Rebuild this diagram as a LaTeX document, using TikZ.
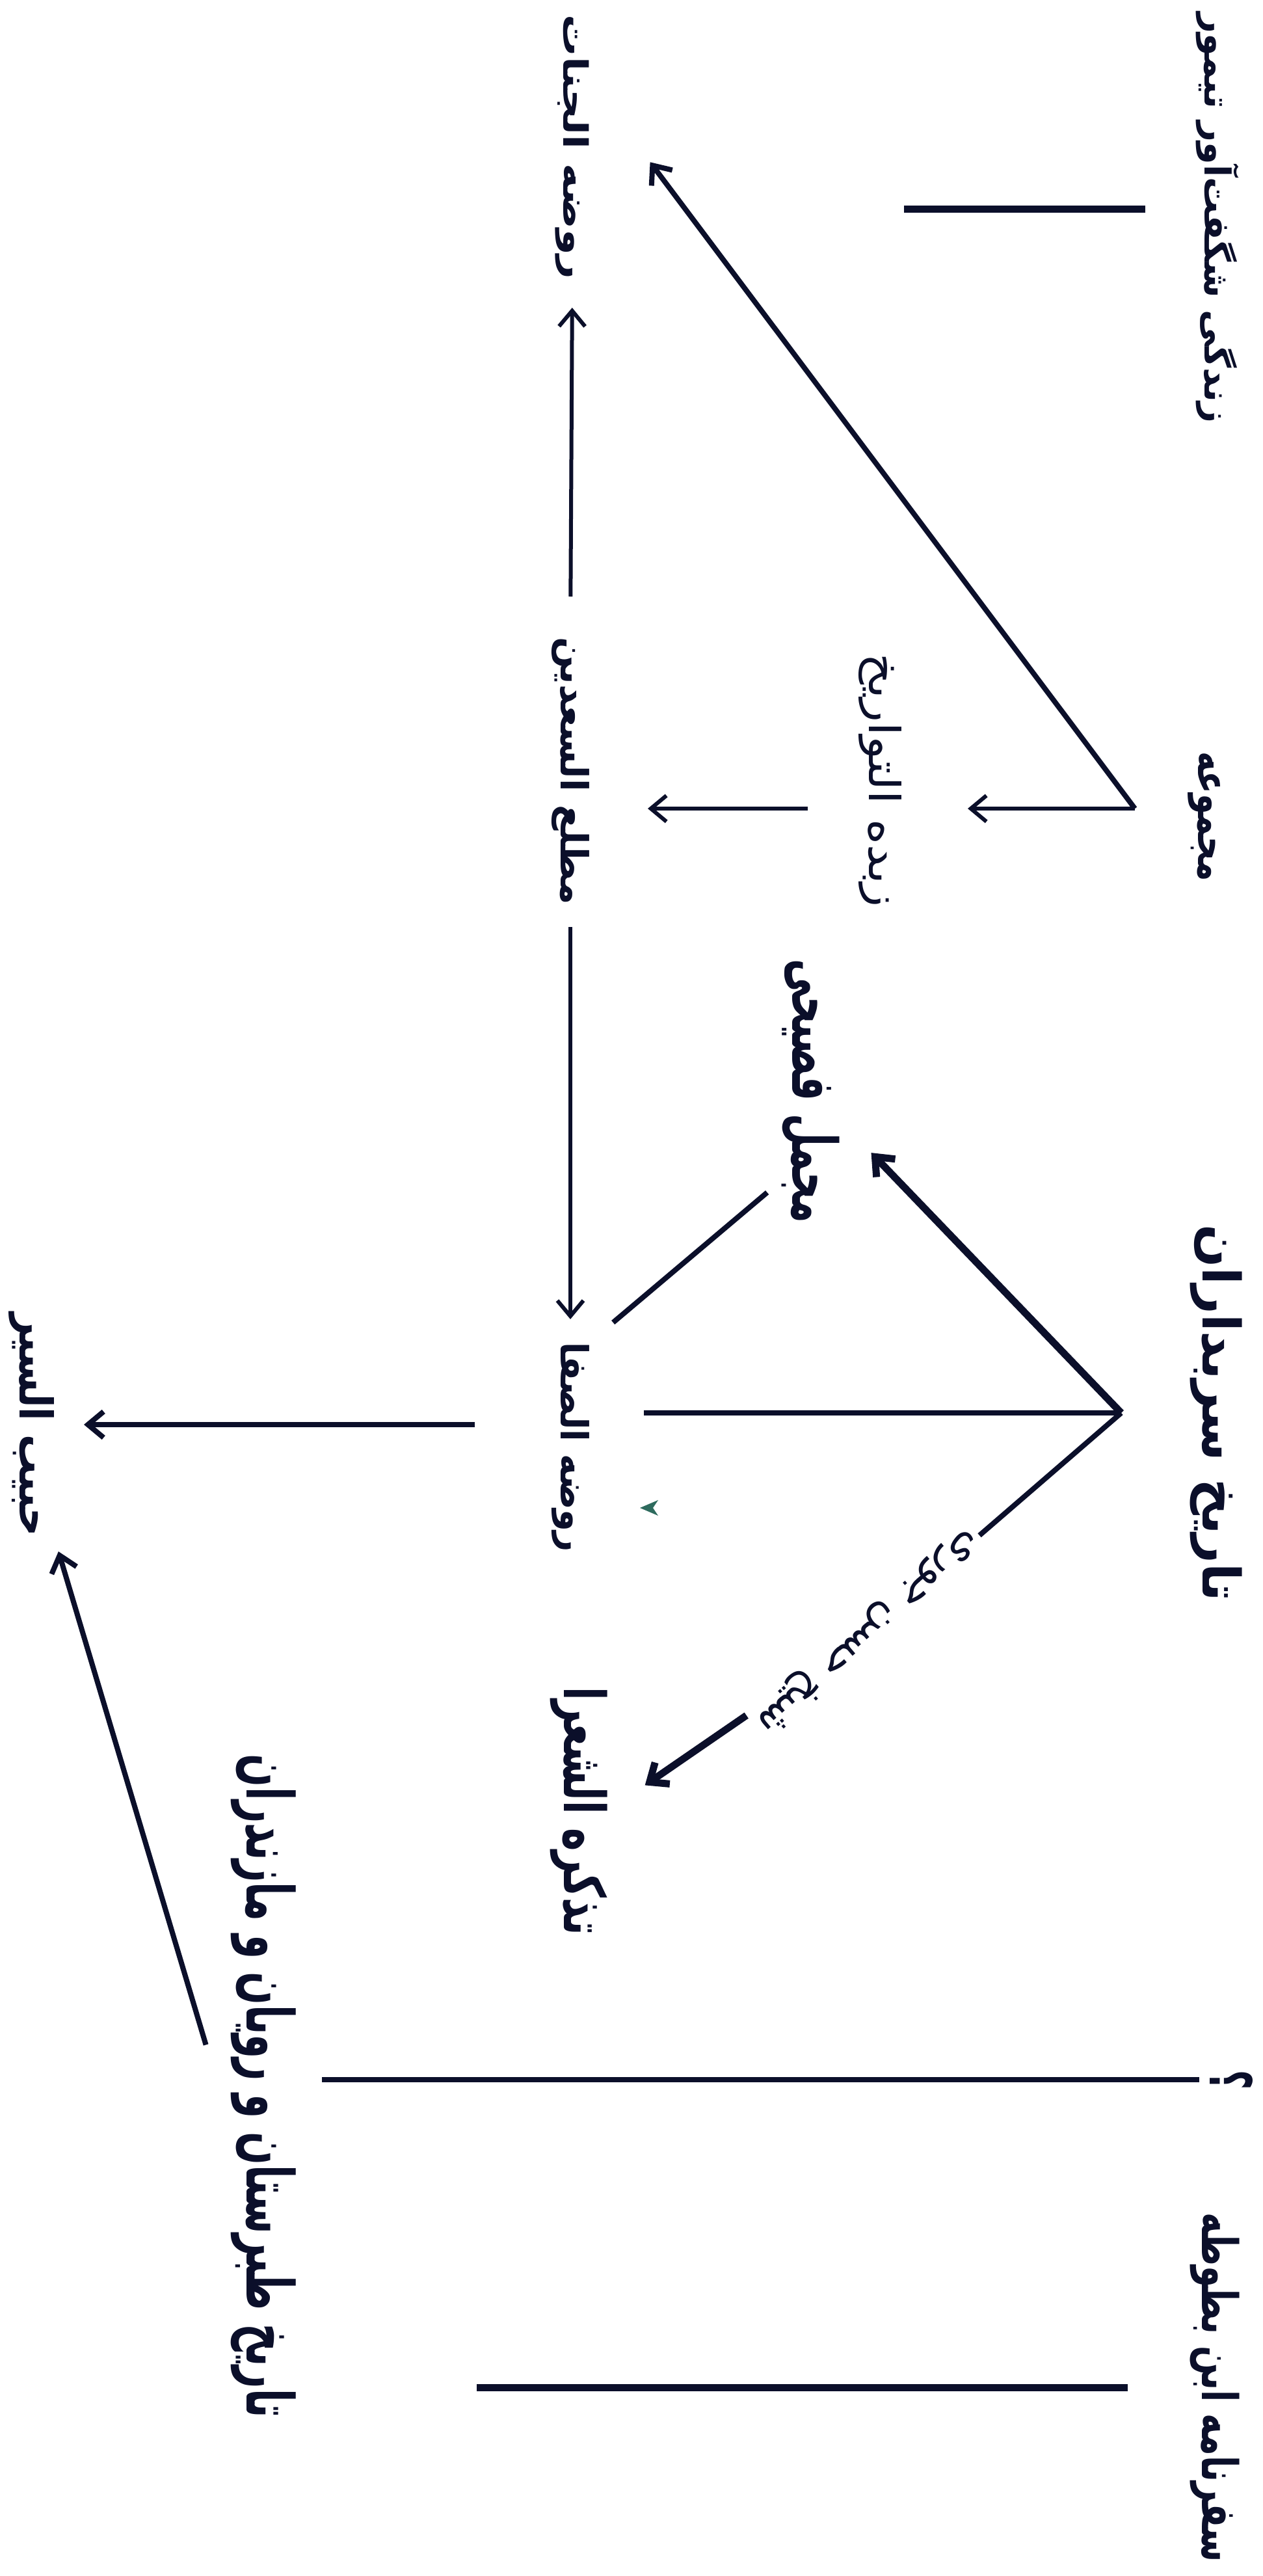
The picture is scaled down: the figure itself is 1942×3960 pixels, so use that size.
\documentclass[tikz,border=0pt]{standalone}
\usepackage{fontspec}
\usetikzlibrary{arrows.meta,calc}
\newfontfamily\arabicfont[Script=Arabic]{DejaVu Sans}
\TeXXeTstate=1
\definecolor{inkc}{HTML}{0B0F2A}
\definecolor{specc}{HTML}{2E6B5E}
\newcommand\fatext[3]{\resizebox*{#1}{#2}{\arabicfont #3}}
\newcommand\fabold[3]{\resizebox*{#1}{#2}{\arabicfont\bfseries #3}}
\begin{document}
\begin{tikzpicture}[x=0.5pt,y=-0.5pt,
  lbl/.style={inner sep=0pt, outer sep=0pt, rotate=-90, text=inkc},
  thinln/.style={draw=inkc, line width=3pt},
  medln/.style={draw=inkc, line width=4pt},
  heavyln/.style={draw=inkc, line width=5.5pt},
  arr/.style={-{Straight Barb[length=12pt,width=20pt]}}]
\fill[white] (0,0) rectangle (1942,3960);
\useasboundingbox (0,0) rectangle (1942,3960);

% right column
\node[lbl] (zendegi) at (1872,335) {\fabold{315pt}{33pt}{\beginR زندگی شگفت‌آور تیمور\endR}};
\node[lbl] (majmue) at (1852,1255) {\fabold{100pt}{25pt}{\beginR مجموعه\endR}};
\node[lbl] (sarb) at (1870,2172) {\fabold{290pt}{40pt}{\beginR تاریخ سربداران\endR}};
\node[lbl] (qm) at (1893,3197) {\fabold{15pt}{33pt}{\beginR ؟\endR}};
\node[lbl] (safar) at (1868,3670) {\fabold{269pt}{38pt}{\beginR سفرنامه ابن بطوطه\endR}};

% middle
\node[lbl] (zobde) at (1353,1200) {\fatext{195pt}{33pt}{\beginR زبده التواریخ\endR}};
\node[lbl] (mojmal) at (1246,1677) {\fabold{203pt}{45pt}{\beginR مجمل فصیحی\endR}};

% left column
\node[lbl] (rjannat) at (880,226) {\fabold{203pt}{26pt}{\beginR روضه الجنات\endR}};
\node[lbl] (matla) at (877,1185) {\fabold{206pt}{29pt}{\beginR مطلع السعدین\endR}};
\node[lbl] (rsafa) at (877,2225) {\fabold{161pt}{29pt}{\beginR روضه الصفا\endR}};
\node[lbl] (tazkere) at (890,2784) {\fabold{191pt}{44pt}{\beginR تذکره الشعرا\endR}};
\node[lbl] (tabar) at (405,3207) {\fabold{510pt}{50pt}{\beginR تاریخ طبرستان و رویان و مازندران\endR}};
\node[lbl] (habib) at (48,2190) {\fabold{172pt}{35pt}{\beginR حبیب السیر\endR}};

% arrow label
\node[inner sep=3pt, outer sep=0pt, rotate=221, text=inkc] (label) at (1335,2508) {\fatext{220pt}{28pt}{\beginR شیخ حسن جوری\endR}};

% junctions and free ends
\coordinate (mA) at (1745,1243);
\coordinate (sA) at (1724,2172);
\coordinate (zfree) at (1390,322);
\coordinate (sfree) at (733,3670);

% connectors
\draw[heavyln, shorten <=39pt] (zendegi.south |- zfree) -- (zfree);
\draw[medln, arr, shorten >=78pt] (mA) -- ($(rjannat.north)!0.5!(rjannat.north west)$);
\draw[thinln, arr, shorten >=51pt] (mA) -- (mA -| zobde.north);
\draw[thinln, arr, shorten <=39pt, shorten >=45pt] (zobde.south |- mA) -- (matla.north |- mA);
\draw[thinln, arr, shorten <=31pt, shorten >=22pt] (matla.west) -- (rjannat.east);
\draw[thinln, arr, shorten <=17pt, shorten >=18pt] (matla.east) -- (rsafa.west);
\draw[heavyln, arr, shorten >=35pt] (sA) -- ($(mojmal.north)!0.22!(mojmal.north east)$);
\draw[medln, shorten >=42pt] (sA) -- (sA -| rsafa.north);
\draw[medln, shorten <=14pt, shorten >=24pt] ($(mojmal.south)!0.68!(mojmal.south east)$) -- (rsafa.north west);
\draw[medln] (sA) -- (label);
\draw[heavyln, arr, shorten >=35pt] (label) -- (tazkere.north);
\draw[medln, arr, shorten <=59pt, shorten >=23pt] (rsafa.south |- habib) -- (habib.north);
\draw[medln, arr, shorten <=67pt, shorten >=12pt] ($(tabar.south)!0.127!(tabar.south east)$) -- (habib.north east);
\draw[medln, shorten <=8pt, shorten >=20pt] (qm.south) -- (qm.south -| tabar.north);
\draw[heavyln, shorten <=48pt] (safar.south) -- (sfree);

% small green speck
\fill[specc] (1012,2306) -- (984,2318) -- (1012,2330) -- (1004,2318) -- cycle;
\end{tikzpicture}
\end{document}
